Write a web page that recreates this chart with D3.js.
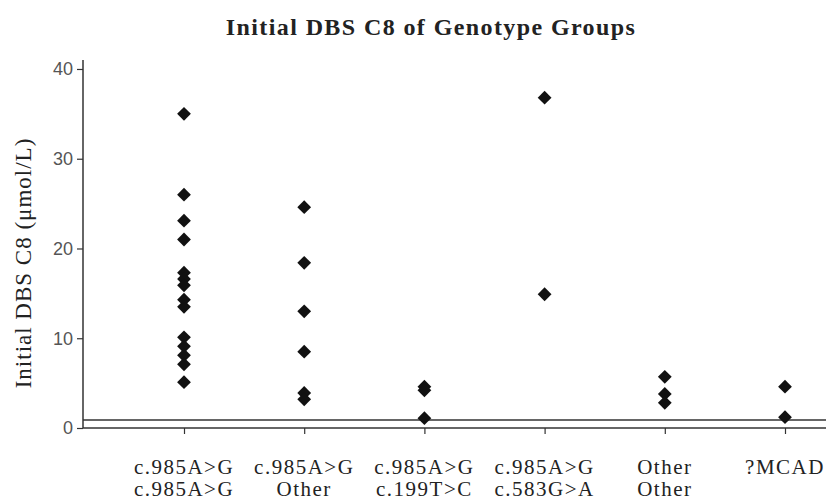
<!DOCTYPE html>
<html>
<head>
<meta charset="utf-8">
<script src="https://cdn.jsdelivr.net/npm/d3@7"></script>
<style>
  body { margin: 0; background: #fff; }
  svg { display: block; }
</style>
</head>
<body>
<div id="chart"></div>
<script>
// genotype groups, two-line labels
var labelTop = ["c.985A>G", "c.985A>G", "c.985A>G", "c.985A>G", "Other", "?MCAD"];
var labelBottom = ["c.985A>G", "Other", "c.199T>C", "c.583G>A", "Other", ""];

// initial DBS C8 values (umol/L) per group
var homozygous = [35, 26, 23.1, 21, 17.3, 16.6, 15.9, 14.3, 13.5, 10.1, 9.1, 8.1, 7.1, 5.1];
var withOther = [24.6, 18.4, 13, 8.5, 3.9, 3.2];
var with199 = [4.6, 4.2, 1.1];
var with583 = [36.8, 14.9];
var otherOther = [5.7, 3.8, 2.8];
var mcadUnknown = [4.6, 1.2];
var groupValues = [homozygous, withOther, with199, with583, otherOther, mcadUnknown];

var yTicks = [0, 10, 20, 30, 40];
var cutoff = 0.9;

(function() {
  var width = 826, height = 501;
  var mLeft = 83, mRight = 826, mTop = 60, mBottom = 428;
  var ink = "#333";

  var svg = d3.select("#chart").append("svg")
    .attr("width", width)
    .attr("height", height);

  var x = d3.scalePoint()
    .domain(d3.range(labelTop.length))
    .range([184, 785]);

  var y = d3.scaleLinear()
    .domain([0, 41])
    .range([mBottom, mTop]);

  // title
  svg.append("text")
    .attr("x", 431)
    .attr("y", 35)
    .attr("text-anchor", "middle")
    .style("font-family", "'Liberation Serif', serif")
    .style("font-size", "24px")
    .style("font-weight", "bold")
    .style("letter-spacing", "1.4px")
    .style("fill", "#222")
    .text("Initial DBS C8 of Genotype Groups");

  // y axis title
  svg.append("text")
    .attr("transform", "translate(31,263) rotate(-90)")
    .attr("text-anchor", "middle")
    .style("font-family", "'Liberation Serif', serif")
    .style("font-size", "23px")
    .style("letter-spacing", "1px")
    .style("fill", "#222")
    .text("Initial DBS C8 (\u03bcmol/L)");

  // y axis
  var yAxis = svg.append("g")
    .attr("transform", "translate(" + mLeft + ",0)")
    .call(d3.axisLeft(y).tickValues(yTicks).tickSize(6).tickPadding(4));
  yAxis.select(".domain").remove();
  yAxis.selectAll(".tick line").attr("stroke", ink).attr("stroke-width", 1.2);
  yAxis.selectAll(".tick text")
    .style("font-family", "'Liberation Sans', sans-serif")
    .style("font-size", "18px")
    .style("fill", "#555");

  svg.append("line")
    .attr("x1", mLeft).attr("x2", mLeft)
    .attr("y1", mTop).attr("y2", mBottom)
    .attr("stroke", ink).attr("stroke-width", 1.5);

  // x axis
  var xAxis = svg.append("g")
    .attr("transform", "translate(0," + mBottom + ")")
    .call(d3.axisBottom(x).tickSize(6).tickFormat(""));
  xAxis.select(".domain").remove();
  xAxis.selectAll(".tick line").attr("stroke", ink).attr("stroke-width", 1.2);

  svg.append("line")
    .attr("x1", mLeft).attr("x2", mRight)
    .attr("y1", mBottom).attr("y2", mBottom)
    .attr("stroke", ink).attr("stroke-width", 1.5);

  // cutoff line just above zero
  svg.append("line")
    .attr("x1", mLeft).attr("x2", mRight)
    .attr("y1", y(cutoff)).attr("y2", y(cutoff))
    .attr("stroke", ink).attr("stroke-width", 1.5);

  // two-line category labels
  var labels = svg.append("g")
    .style("font-family", "'Liberation Serif', serif")
    .style("font-size", "21px")
    .style("letter-spacing", "1.5px")
    .style("fill", "#222")
    .attr("text-anchor", "middle");

  labels.selectAll(".top").data(labelTop).enter()
    .append("text")
    .attr("class", "top")
    .attr("x", function(d, i) { return x(i); })
    .attr("y", 474)
    .text(function(d) { return d; });

  labels.selectAll(".bottom").data(labelBottom).enter()
    .append("text")
    .attr("class", "bottom")
    .attr("x", function(d, i) { return x(i); })
    .attr("y", 496)
    .text(function(d) { return d; });

  // points
  var points = [];
  groupValues.forEach(function(vals, i) {
    vals.forEach(function(v) { points.push({ g: i, v: v }); });
  });

  var diamond = d3.symbol().type(d3.symbolSquare).size(95);

  svg.append("g").selectAll("path").data(points).enter()
    .append("path")
    .attr("d", diamond)
    .attr("transform", function(d) { return "translate(" + x(d.g) + "," + y(d.v) + ") rotate(45)"; })
    .attr("fill", "#111");
})();
</script>
</body>
</html>
